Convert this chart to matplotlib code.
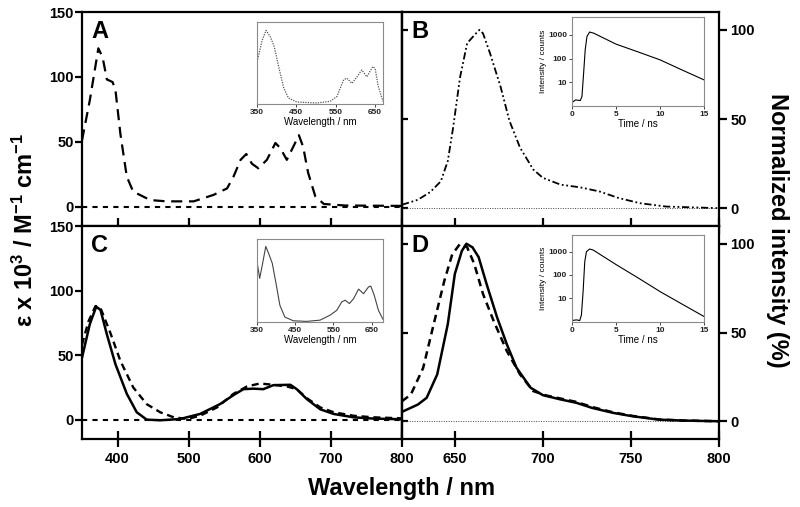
# Four-panel absorption / emission figure (A-D) with insets, rebuilt with matplotlib.

import numpy as np
import matplotlib
matplotlib.use('Agg')
import matplotlib.pyplot as plt

plt.rcParams['font.family'] = ['Liberation Sans', 'DejaVu Sans']
plt.rcParams['font.weight'] = 'bold'
plt.rcParams['mathtext.fontset'] = 'custom'
plt.rcParams['mathtext.rm'] = 'Liberation Sans:bold'
plt.rcParams['mathtext.it'] = 'Liberation Sans:bold'
plt.rcParams['mathtext.bf'] = 'Liberation Sans:bold'
plt.rcParams['mathtext.default'] = 'rm'

# ---- data ----
# panel A: absorption (dashed)
a_wl = [350, 361, 373, 379, 385, 393, 397, 404, 413, 422, 446, 469, 507, 535, 554, 563, 573,
        581, 589, 598, 610, 622, 629, 638, 647, 655, 661, 668, 678, 690, 720, 800]
a_eps = [51, 82, 122, 115, 98, 96, 90, 56, 23, 11.5, 5, 4, 4, 9, 14, 23, 36,
         40.5, 33, 29.5, 36, 49, 45, 36, 46, 55, 46, 26, 8, 2, 0.8, 0.5]

# panel C: absorption, solid and dashed
c_wl_solid = [350, 361, 370, 376, 385, 397, 413, 427, 441, 460, 488, 516, 544, 563, 577,
              591, 605, 619, 643, 652, 666, 685, 704, 732, 760, 800]
c_eps_solid = [48, 74, 87.5, 85, 66, 43, 20, 5.7, 0, -0.5, 0.5, 4.4, 12, 19, 23.6,
               24, 23.6, 26.7, 27, 23.6, 16, 8, 4.4, 1.8, 0.8, 0.3]
c_wl_dash = [350, 359, 369, 376, 390, 404, 422, 441, 460, 479, 498, 516, 540, 563, 582,
             600, 619, 638, 652, 666, 685, 704, 732, 760, 800]
c_eps_dash = [58, 76, 88, 86.5, 67, 45.5, 25, 12, 5.7, 1.8, 0.5, 3, 9.5, 20, 25.7,
              28, 27, 25.7, 23.6, 16.7, 9.5, 5.7, 3, 1.8, 1]

# panel B: emission (dash-dot)
b_wl = [620, 629, 636, 642, 646, 649, 653, 657, 662, 664, 666, 670, 676, 681, 687,
        694.5, 700, 710, 721, 732, 743, 755, 770, 800]
b_int = [1.9, 4.7, 9, 15, 26.4, 45, 73.6, 92.5, 98, 100, 98, 86.8, 68, 49, 34,
         21.7, 17, 13.2, 11.7, 9.4, 5.7, 2.8, 0.9, 0]

# panel D: emission, solid and dashed
d_wl_solid = [620, 629, 634, 640, 646, 650, 654, 656.6, 660, 663.5, 668, 674, 679.5, 685,
              693, 700, 710, 719, 728, 740, 751, 766, 779, 800]
d_int_solid = [5.3, 9.4, 13.2, 26.4, 54.7, 83, 96, 100, 98, 92.5, 77.4, 58.5, 43.4, 30.2,
               18.9, 14.7, 12.3, 10.4, 7.5, 4.7, 2.8, 0.9, 0.4, 0]
d_wl_dash = [620, 625, 632, 638, 644, 648.5, 653, 657, 661, 666, 672, 679.5, 687, 694.5,
             702, 710, 719, 728, 740, 751, 766, 780, 800]
d_int_dash = [11.3, 15, 30, 54.7, 79, 94, 100, 98, 88.7, 71.7, 56.6, 39.6, 26.4, 17,
              14.5, 12.8, 10.9, 8, 5, 3, 1, 0.4, 0]

# inset of A (dotted spectrum)
ia_wl = [350, 363, 373, 384, 394, 405, 418, 430, 451, 502, 536, 553, 570, 578, 591,
         604, 616, 629, 644, 650, 658, 670]
ia_abs = [69, 105, 122, 111, 94, 61, 25, 8.3, 1.7, 0, 2.8, 11, 39, 41.6, 33,
          44, 55.5, 44, 61, 58, 27.8, 2.8]

# inset of C (solid spectrum)
ic_wl = [350, 357, 364, 373, 382, 390, 399, 410, 423, 445, 480, 515, 541, 559, 572,
         581, 592, 603, 616, 629, 642, 648, 657, 668, 680]
ic_abs = [97, 70, 92, 122, 108, 94.5, 64.5, 26, 7, 1, 0, 2, 10, 18, 31.7,
          34.4, 29, 37, 52.5, 45, 56, 57.4, 42.6, 18, 3.3]

# inset of B: fluorescence decay
ib_t = [0, 0.4, 0.94, 1.13, 1.32, 1.5, 1.7, 2.0, 2.45, 5, 7.5, 10, 12.5, 15]
ib_counts = [1.4, 1.8, 1.7, 2.5, 24, 232, 850, 1300, 1175, 404, 190, 88, 33, 12.6]

# inset of D: fluorescence decay
id_t = [0, 0.5, 0.88, 1.07, 1.26, 1.45, 1.64, 2.0, 2.4, 5, 7.5, 10, 12.5, 15]
id_counts = [1.1, 1.17, 1.1, 1.9, 19, 372, 1000, 1300, 1180, 280, 75, 19.3, 5.6, 1.64]

W, H = 800, 507
fig = plt.figure(figsize=(W / 100, H / 100), dpi=100)


# place an axes from pixel corners (x0, y0) top-left to (x1, y1) bottom-right
def px_axes(x0, y0, x1, y1):
    return fig.add_axes([x0 / W, 1 - y1 / H, (x1 - x0) / W, (y1 - y0) / H])


ax_a = px_axes(82, 12, 402, 226)
ax_b = px_axes(402, 12, 719, 226)
ax_c = px_axes(82, 226, 402, 439)
ax_d = px_axes(402, 226, 719, 439)

for ax in (ax_a, ax_b, ax_c, ax_d):
    for s in ax.spines.values():
        s.set_linewidth(1.6)
    ax.tick_params(axis='x', direction='inout', length=12, width=1.6, labelsize=10.5)
    ax.tick_params(axis='y', width=1.6, labelsize=10.5)

# left panels: epsilon axis
for ax in (ax_a, ax_c):
    ax.set_xlim(350, 800)
    ax.set_ylim(-15, 150)
    ax.set_xticks([400, 500, 600, 700, 800])
    ax.set_yticks([0, 50, 100, 150])
    ax.tick_params(axis='y', direction='out', length=5, pad=1)
    ax.axhline(0, color='black', lw=1.5, ls=(0, (2.5, 2.5)), zorder=1)

# right panels: normalized intensity axis on the right
for ax in (ax_b, ax_d):
    ax.set_xlim(620, 800)
    ax.set_ylim(-10, 110)
    ax.set_xticks([650, 700, 750, 800])
    ax.set_yticks([0, 50, 100])
    ax.tick_params(axis='y', left=False, right=True, labelleft=False, labelright=True,
                   direction='out', length=6, pad=2)
    sec = ax.secondary_yaxis('left')
    sec.set_yticks([0, 50, 100])
    sec.tick_params(direction='in', length=4, width=1.6, labelleft=False)
    sec.spines['left'].set_linewidth(1.6)
    ax.axhline(0, color='#444444', lw=0.7, ls=(0, (1, 1.5)), zorder=1)

ax_a.tick_params(axis='x', labelbottom=False)
ax_b.tick_params(axis='x', labelbottom=False)

ax_a.plot(a_wl, a_eps, color='black', lw=1.6, ls=(0, (5, 3)))
ax_c.plot(c_wl_dash, c_eps_dash, color='black', lw=1.7, ls=(0, (3, 2)))
ax_c.plot(c_wl_solid, c_eps_solid, color='black', lw=1.8)
ax_b.plot(b_wl, b_int, color='black', lw=1.3, ls=(0, (4, 1.5, 1, 1.5, 1, 1.5)))
ax_d.plot(d_wl_dash, d_int_dash, color='black', lw=1.8, ls=(0, (3, 2)))
ax_d.plot(d_wl_solid, d_int_solid, color='black', lw=1.8)

# panel letters
for ax, letter in ((ax_a, 'A'), (ax_b, 'B'), (ax_c, 'C'), (ax_d, 'D')):
    ax.annotate(letter, xy=(0, 1), xycoords='axes fraction', xytext=(9, -8),
                textcoords='offset pixels', ha='left', va='top',
                fontsize=17, fontweight='bold')


# ---- insets ----
def style_inset(ax):
    for s in ax.spines.values():
        s.set_linewidth(0.8)
        s.set_color('#8a8a8a')
    ax.tick_params(labelsize=6, length=2, width=0.6, pad=1.5, colors='#222222')


ins_a = px_axes(257, 22, 383, 104)
ins_a.plot(ia_wl, ia_abs, color='#555555', lw=0.9, ls=(0, (1, 1)))
ins_a.set_xlim(350, 670)
ins_a.set_ylim(-1.7, 136)
ins_c = px_axes(257, 239, 383, 322)
ins_c.plot(ic_wl, ic_abs, color='#444444', lw=0.8)
ins_c.set_xlim(350, 680)
ins_c.set_ylim(-1, 134)
for ins in (ins_a, ins_c):
    style_inset(ins)
    ins.set_xticks([350, 450, 550, 650])
    ins.set_yticks([])
    ins.set_xlabel('Wavelength / nm', fontsize=7, labelpad=1)

ins_b = px_axes(572, 17, 704, 106)
ins_b.plot(ib_t, ib_counts, color='black', lw=0.8)
ins_b.set_ylim(1, 5600)
ins_d = px_axes(572, 235, 704, 322)
ins_d.plot(id_t, id_counts, color='black', lw=0.8)
ins_d.set_ylim(0.95, 5200)
for ins in (ins_b, ins_d):
    style_inset(ins)
    ins.set_yscale('log')
    ins.set_xlim(0, 15)
    ins.set_xticks([0, 5, 10, 15])
    ins.set_yticks([10, 100, 1000])
    ins.set_yticklabels(['10', '100', '1000'])
    ins.minorticks_off()
    ins.set_xlabel('Time / ns', fontsize=7, labelpad=1)
    ins.set_ylabel('Intensity / counts', fontsize=6, labelpad=1)

# ---- shared axis labels ----
fig.text(0.5025, 1 - 488 / H, 'Wavelength / nm', ha='center', va='center', fontsize=17)
fig.text(25 / W, 1 - 230 / H, 'ε x 10$^{3}$ / M$^{-1}$ cm$^{-1}$', rotation=90,
         ha='center', va='center', fontsize=17)
fig.text(778 / W, 1 - 230 / H, 'Normalized intensity (%)', rotation=-90,
         ha='center', va='center', fontsize=17)

fig.savefig('out.png', dpi=100)
